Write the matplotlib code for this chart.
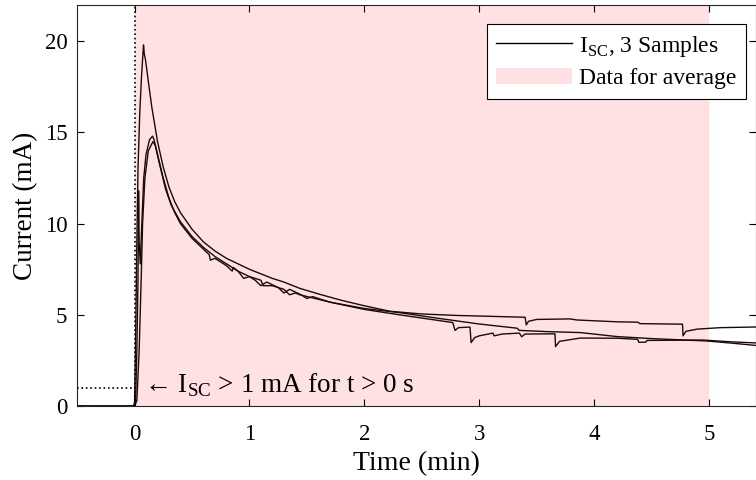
import matplotlib
matplotlib.use("Agg")
import matplotlib.pyplot as plt
from matplotlib.patches import Patch
from matplotlib.lines import Line2D

plt.rcParams['font.family'] = ['Liberation Serif', 'DejaVu Serif']
plt.rcParams['mathtext.fontset'] = 'custom'
plt.rcParams['mathtext.rm'] = 'Liberation Serif'
plt.rcParams['font.size'] = 19

# sample 1 (highest peak)
t_a = [-0.5, -0.01, 0.0, 0.01, 0.02, 0.03, 0.045, 0.06, 0.078, 0.085, 0.095, 0.12, 0.15,
       0.2, 0.25, 0.3, 0.35, 0.4, 0.5, 0.6, 0.7, 0.8, 0.9, 1.0, 1.1, 1.2, 1.3, 1.44, 1.6,
       1.8, 2.0, 2.22, 2.5, 2.8, 3.1, 3.40, 3.41, 3.43, 3.5, 3.79, 3.85, 4.2, 4.38, 4.4,
       4.77, 4.775, 4.8, 4.9, 5.1, 5.45]
i_a = [0, 0, 0.2, 4, 9, 13, 16, 18, 19.8, 19.3, 19.0, 17.8, 16.4,
       14.5, 13.1, 12.0, 11.2, 10.6, 9.7, 9.0, 8.5, 8.1, 7.8, 7.5, 7.25, 7.0, 6.8, 6.45, 6.15,
       5.8, 5.5, 5.2, 5.05, 4.97, 4.92, 4.87, 4.45, 4.65, 4.75, 4.78, 4.72, 4.62, 4.6, 4.52,
       4.49, 3.85, 4.1, 4.22, 4.3, 4.34]

# sample 2
t_b = [-0.5, 0.0, 0.01, 0.02, 0.03, 0.035, 0.04, 0.05, 0.06, 0.08, 0.1, 0.13, 0.157, 0.17,
       0.2, 0.25, 0.3, 0.35, 0.4, 0.5, 0.6, 0.65, 0.66, 0.7, 0.8, 0.85, 0.86, 0.9, 1.0, 1.1,
       1.12, 1.2, 1.3, 1.35, 1.4, 1.44, 1.7, 2.0, 2.31, 2.6, 3.0, 3.33, 3.35, 3.6, 3.88,
       4.2, 4.5, 4.98, 5.2, 5.45]
i_b = [0, 0, 0.5, 3, 7, 11.8, 9, 7.8, 9.5, 12.5, 13.8, 14.6, 14.8, 14.6,
       13.8, 12.5, 11.4, 10.6, 10.0, 9.2, 8.6, 8.3, 8.0, 8.1, 7.7, 7.4, 7.6, 7.4, 7.1, 6.9,
       6.6, 6.6, 6.4, 6.1, 6.2, 6.1, 5.7, 5.35, 5.12, 4.85, 4.5, 4.27, 4.15, 4.08, 4.03,
       3.81, 3.7, 3.57, 3.45, 3.3]

# sample 3
t_c = [-0.5, 0.0, 0.02, 0.04, 0.06, 0.07, 0.09, 0.12, 0.16, 0.18, 0.22, 0.27, 0.32, 0.4,
       0.5, 0.6, 0.7, 0.8, 0.9, 0.95, 1.0, 1.05, 1.1, 1.15, 1.25, 1.3, 1.35, 1.45, 1.5, 1.55,
       1.7, 2.0, 2.31, 2.77, 2.79, 2.82, 2.92, 2.93, 2.96, 3.0, 3.12, 3.13, 3.2, 3.35, 3.37,
       3.4, 3.66, 3.665, 3.7, 3.88, 4.2, 4.38, 4.39, 4.45, 4.46, 4.95, 5.2, 5.45]
i_c = [0, 0, 0.3, 3, 7.5, 10, 12.5, 14.0, 14.5, 14.3, 13.2, 11.9, 11.0, 10.1,
       9.3, 8.7, 8.2, 7.8, 7.4, 7.0, 7.1, 6.9, 6.6, 6.8, 6.5, 6.2, 6.4, 6.1, 5.9, 6.0,
       5.7, 5.3, 5.0, 4.58, 4.15, 4.3, 4.33, 3.48, 3.75, 3.85, 4.0, 3.85, 3.95, 4.0, 3.8,
       3.95, 3.96, 3.26, 3.55, 3.73, 3.72, 3.66, 3.5, 3.5, 3.6, 3.62, 3.52, 3.45]

avg_start, avg_end = 0, 5
threshold = 1

fig = plt.figure(figsize=(7.56, 4.8), dpi=100)
ax = fig.add_axes([0.102, 0.154, 0.898, 0.836])

pink = '#ffe1e4'
ax.axvspan(avg_start, avg_end, color=pink, lw=0, zorder=0)
for t, i in [(t_a, i_a), (t_b, i_b), (t_c, i_c)]:
    ax.plot(t, i, color='#1a0a0a', lw=1.0, zorder=2)

ax.plot([0, 0], [0, 22], 'k:', lw=1.2, zorder=3)
ax.plot([-0.5, 0], [threshold, threshold], 'k:', lw=1.2, zorder=3)
ax.text(0.08, threshold + 0.15, '\u2190 I$_\\mathregular{SC}$ > 1 mA for t > 0 s',
        fontsize=19.5, va='center', ha='left')

ax.set_xlim(-0.5, 5.41)
ax.set_ylim(0, 22)
ax.set_xticks([0, 1, 2, 3, 4, 5])
ax.set_yticks([0, 5, 10, 15, 20])
ax.tick_params(direction='in', top=True, right=True, labelsize=16.5, length=5)
ax.tick_params(axis='x', pad=13)
ax.tick_params(axis='y', pad=7)
ax.set_xlabel('Time (min)', fontsize=20, labelpad=4)
ax.set_ylabel('Current (mA)', fontsize=19.5, labelpad=5)
for s in ax.spines.values():
    s.set_color('#262626')

handles = [Line2D([], [], color='k', lw=1),
           Patch(facecolor=pink, edgecolor='none')]
leg = ax.legend(handles, [r'I$_\mathregular{SC}$, 3 Samples', 'Data for average'],
                loc='upper right', bbox_to_anchor=(0.985, 0.952), fontsize=17, fancybox=False,
                framealpha=1, edgecolor='k', handlelength=3.2, borderpad=0.4,
                labelspacing=0.4, handletextpad=0.3, borderaxespad=0)
leg.get_frame().set_linewidth(0.8)

fig.savefig('out.png', dpi=100)
